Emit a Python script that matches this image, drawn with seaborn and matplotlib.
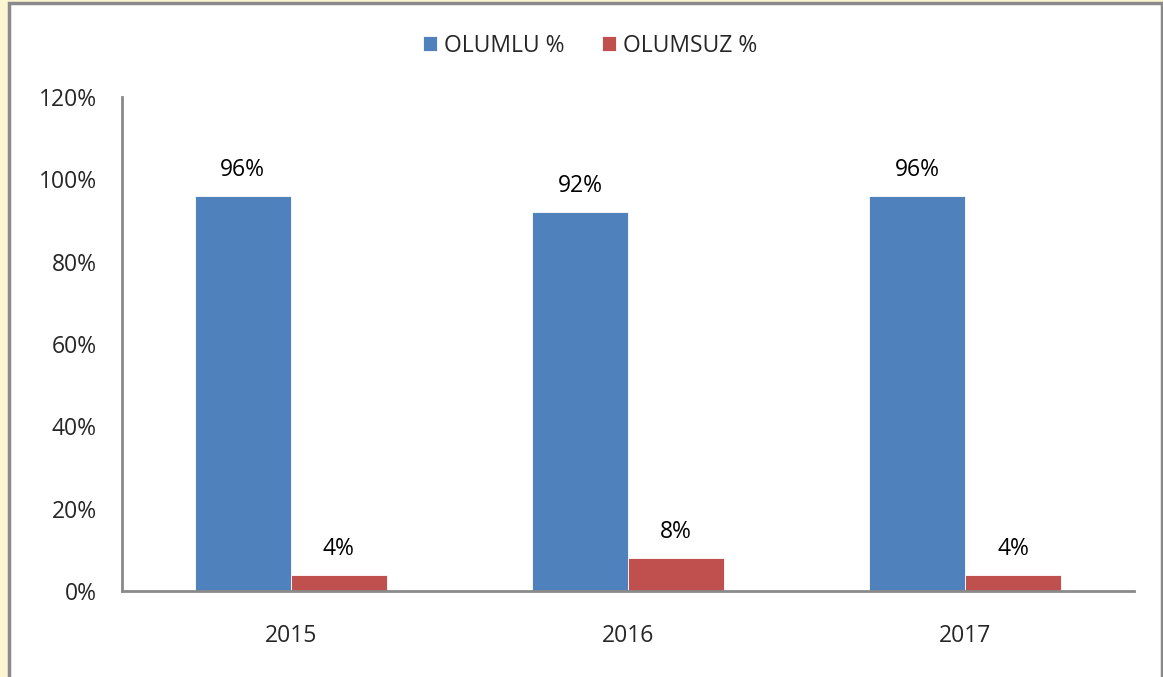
import pandas as pd
import matplotlib.pyplot as plt
import seaborn as sns
from matplotlib.patches import Rectangle

years = ["2015", "2016", "2017"]
olumlu = [96, 92, 96]
olumsuz = [4, 8, 4]
series = ["OLUMLU %", "OLUMSUZ %"]
colors = ["#4F81BD", "#C0504D"]

df = pd.DataFrame({
    "year": years * 2,
    "value": olumlu + olumsuz,
    "series": [series[0]] * 3 + [series[1]] * 3,
})

sns.set_theme(style="white")
plt.rcParams["font.family"] = ["Open Sans", "DejaVu Sans"]

fig = plt.figure(figsize=(11.63, 6.77), dpi=100)
fig.patch.set_facecolor("#FBF6D0")
# white chart area with grey frame
fig.patches.append(Rectangle((9 / 1163, -0.01), (1162 - 9) / 1163, (674 / 677) + 0.01,
                             transform=fig.transFigure, facecolor="white",
                             edgecolor="#8A8A8A", linewidth=2.5, zorder=-10))

ax = fig.add_axes([122 / 1163, 86 / 677, (1134 - 122) / 1163, (591 - 97) / 677])
ax.set_facecolor("none")
sns.barplot(data=df, x="year", y="value", hue="series", palette=colors,
            saturation=1, width=0.57, ax=ax, edgecolor="white", linewidth=0.6)

for cont in ax.containers:
    ax.bar_label(cont, labels=[f"{v:.0f}%" for v in cont.datavalues],
                 padding=10, fontsize=16.5, color="black")

ax.set_ylim(0, 120)
ax.set_yticks(range(0, 121, 20))
ax.set_yticklabels([f"{t}%" for t in range(0, 121, 20)], fontsize=16.5)
ax.tick_params(axis="x", labelsize=16.5, pad=24)
ax.tick_params(axis="y", pad=18)
ax.tick_params(length=0)
ax.set_xlabel("")
ax.set_ylabel("")
for side in ["top", "right"]:
    ax.spines[side].set_visible(False)
for side in ["left", "bottom"]:
    ax.spines[side].set_color("#8A8A8A")
    ax.spines[side].set_linewidth(2)

ax.legend(loc="upper center", bbox_to_anchor=(0.4625, 1.17), ncol=2, frameon=False,
          fontsize=16.5, handlelength=0.65, handleheight=0.65, handletextpad=0.3,
          columnspacing=1.6)

fig.savefig("out.png", dpi=100)
